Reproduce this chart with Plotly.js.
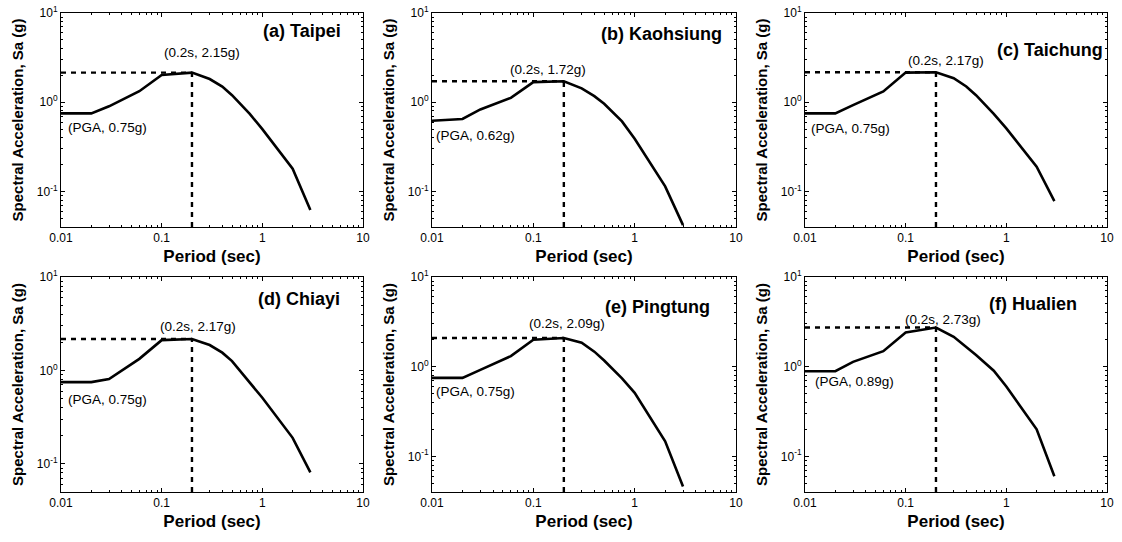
<!DOCTYPE html>
<html>
<head>
<meta charset="utf-8">
<script src="https://cdn.plot.ly/plotly-3.0.1.min.js"></script>
<style>html,body{margin:0;padding:0;background:#fff;}#chart{width:1122px;height:542px;}</style>
</head>
<body>
<div id="chart"></div>
<script>
// ---- data ----
const periods = [0.01, 0.02, 0.03, 0.06, 0.1, 0.2, 0.3, 0.4, 0.5, 0.75, 1, 2, 3];
const saTaipei    = [0.75, 0.75, 0.90, 1.33, 2.02, 2.15, 1.82, 1.50, 1.20, 0.74, 0.50, 0.180, 0.062];
const saKaohsiung = [0.62, 0.65, 0.83, 1.12, 1.68, 1.72, 1.43, 1.17, 0.96, 0.61, 0.39, 0.114, 0.042];
const saTaichung  = [0.75, 0.75, 0.93, 1.32, 2.15, 2.17, 1.86, 1.50, 1.20, 0.74, 0.51, 0.190, 0.078];
const saChiayi    = [0.75, 0.75, 0.81, 1.33, 2.11, 2.17, 1.87, 1.55, 1.26, 0.74, 0.51, 0.190, 0.081];
const saPingtung  = [0.75, 0.75, 0.92, 1.31, 2.00, 2.09, 1.85, 1.47, 1.17, 0.74, 0.51, 0.147, 0.046];
const saHualien   = [0.89, 0.89, 1.13, 1.49, 2.41, 2.73, 2.15, 1.67, 1.35, 0.90, 0.60, 0.200, 0.060];

const panelTitles = ['(a) Taipei', '(b) Kaohsiung', '(c) Taichung', '(d) Chiayi', '(e) Pingtung', '(f) Hualien'];
const peakPeriod = 0.2;
const peakSa = [2.15, 1.72, 2.17, 2.17, 2.09, 2.73];
const pgaSa  = [0.75, 0.62, 0.75, 0.75, 0.75, 0.89];
const peakLabels = ['(0.2s, 2.15g)', '(0.2s, 1.72g)', '(0.2s, 2.17g)', '(0.2s, 2.17g)', '(0.2s, 2.09g)', '(0.2s, 2.73g)'];
const pgaLabels  = ['(PGA, 0.75g)', '(PGA, 0.62g)', '(PGA, 0.75g)', '(PGA, 0.75g)', '(PGA, 0.75g)', '(PGA, 0.89g)'];
const yMin = [0.04, 0.04, 0.04, 0.05, 0.04, 0.04];
const yMax = 10;
const xMin = 0.01, xMax = 10;

const xTickVals = [0.01, 0.1, 1, 10];
const xTickText = ['0.01', '0.1', '1', '10'];
const yTickVals = [0.1, 1, 10];
const yTickText = ['10<sup>-1</sup>', '10<sup>0</sup>', '10<sup>1</sup>'];

const xTitle = 'Period (sec)';
const yTitle = 'Spectral Acceleration, Sa (g)';

const series = [saTaipei, saKaohsiung, saTaichung, saChiayi, saPingtung, saHualien];

// ---- layout geometry (pixels) ----
const W = 1122, H = 542;
const colPx = [[61, 363], [432, 736], [805, 1107]];
const rowPx = [[13, 227], [277, 492]];
// annotation positions in log10 axis units: [peakX, peakY, pgaX, pgaY, titleX, titleY]
const annotPos = [
  [-0.603, 0.556, -1.54, -0.278, 0.805, 0.796],
  [-0.851, 0.370, -1.568, -0.370, 0.880, 0.760],
  [-0.600, 0.463, -1.553, -0.290, 0.980, 0.585],
  [-0.636, 0.475, -1.540, -0.310, 0.790, 0.760],
  [-0.663, 0.480, -1.568, -0.278, 0.765, 0.667],
  [-0.632, 0.526, -1.513, -0.160, 0.720, 0.700]
];

const FONT = '"Liberation Sans", Arial, Helvetica, sans-serif';

function aliasMap(vals, texts) {
  const m = {};
  vals.forEach((v, k) => { m[String(v)] = texts[k]; });
  return m;
}

const traces = [];
const layout = {
  width: W, height: H,
  margin: {l: 0, r: 0, t: 0, b: 0},
  paper_bgcolor: '#fff', plot_bgcolor: '#fff',
  showlegend: false,
  font: {family: FONT, color: '#000'},
  annotations: []
};

function tickOpts(vals, texts) {
  return {
    tickmode: 'linear', tick0: 0, dtick: 1, labelalias: aliasMap(vals, texts),
    ticks: 'inside', ticklen: 4, tickwidth: 1, tickcolor: '#000',
    minor: {ticks: 'inside', ticklen: 2, tickwidth: 1, tickcolor: '#000', dtick: 'D1', showgrid: false},
    mirror: 'allticks'
  };
}

for (let i = 0; i < 6; i++) {
  const n = i + 1;
  const xa = n === 1 ? 'x' : 'x' + n;
  const ya = n === 1 ? 'y' : 'y' + n;
  const xKey = n === 1 ? 'xaxis' : 'xaxis' + n;
  const yKey = n === 1 ? 'yaxis' : 'yaxis' + n;
  const col = colPx[i % 3], row = rowPx[Math.floor(i / 3)];

  // spectrum curve
  traces.push({
    x: periods, y: series[i], xaxis: xa, yaxis: ya,
    type: 'scatter', mode: 'lines',
    line: {color: '#000', width: 2.6}, hoverinfo: 'x+y'
  });
  // dashed guide lines to the 0.2 s peak
  traces.push({
    x: [xMin, peakPeriod], y: [peakSa[i], peakSa[i]], xaxis: xa, yaxis: ya,
    type: 'scatter', mode: 'lines',
    line: {color: '#000', width: 2.4, dash: '5px,5px'}, hoverinfo: 'skip'
  });
  traces.push({
    x: [peakPeriod, peakPeriod], y: [yMin[i], peakSa[i]], xaxis: xa, yaxis: ya,
    type: 'scatter', mode: 'lines',
    line: {color: '#000', width: 2.4, dash: '5px,5px'}, hoverinfo: 'skip'
  });

  layout[xKey] = Object.assign({
    type: 'log', domain: [col[0] / W, col[1] / W], anchor: ya,
    range: [Math.log10(xMin), Math.log10(xMax)],
    showline: true, linecolor: '#000', linewidth: 1,
    showgrid: false, zeroline: false,
    tickfont: {family: FONT, size: 12, color: '#000'},
    title: {text: xTitle, font: {family: FONT, size: 17, weight: 'bold', color: '#000'}, standoff: 5},
    automargin: false
  }, tickOpts(xTickVals, xTickText));
  layout[yKey] = Object.assign({
    type: 'log', domain: [1 - row[1] / H, 1 - row[0] / H], anchor: xa,
    range: [Math.log10(yMin[i]), Math.log10(yMax)],
    showline: true, linecolor: '#000', linewidth: 1,
    showgrid: false, zeroline: false,
    tickfont: {family: FONT, size: 12, color: '#000'},
    title: {text: yTitle, font: {family: FONT, size: 15, weight: 'bold', color: '#000'}, standoff: 9},
    automargin: false
  }, tickOpts(yTickVals, yTickText));

  const p = annotPos[i];
  layout.annotations.push({
    xref: xa, yref: ya, x: p[0], y: p[1], text: peakLabels[i], showarrow: false,
    xanchor: 'center', yanchor: 'middle', font: {family: FONT, size: 13.5, color: '#000'}
  });
  layout.annotations.push({
    xref: xa, yref: ya, x: p[2], y: p[3], text: pgaLabels[i], showarrow: false,
    xanchor: 'center', yanchor: 'middle', font: {family: FONT, size: 13.5, color: '#000'}
  });
  layout.annotations.push({
    xref: xa, yref: ya, x: p[4], y: p[5], text: panelTitles[i], showarrow: false,
    xanchor: 'right', yanchor: 'middle', font: {family: FONT, size: 18, weight: 'bold', color: '#000'}
  });
}

Plotly.newPlot('chart', traces, layout, {displayModeBar: false, staticPlot: true});
</script>
</body>
</html>
